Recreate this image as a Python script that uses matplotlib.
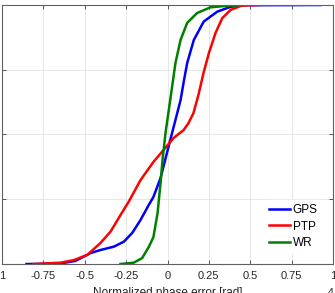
import numpy as np
import matplotlib
matplotlib.use('Agg')
import matplotlib.pyplot as plt

plt.rcParams['font.family'] = ['Liberation Sans', 'DejaVu Sans']

# CDF of normalized phase error
gps_x = [-0.852, -0.767, -0.647, -0.556, -0.465, -0.405, -0.324, -0.264, -0.213, -0.163,
         -0.113, -0.085, -0.042, 0.006, 0.048, 0.079, 0.099, 0.119, 0.159, 0.219,
         0.300, 0.381, 0.459, 0.924]
gps_y = [0.0, 0.0, 0.002, 0.012, 0.042, 0.054, 0.067, 0.086, 0.120, 0.170,
         0.228, 0.259, 0.332, 0.452, 0.556, 0.633, 0.707, 0.776, 0.865, 0.936,
         0.974, 0.993, 0.999, 1.0]

ptp_x = [-0.81, -0.647, -0.566, -0.485, -0.405, -0.344, -0.284, -0.234, -0.163, -0.085,
         -0.024, 0.036, 0.097, 0.127, 0.157, 0.187, 0.219, 0.250, 0.290, 0.331,
         0.381, 0.441, 0.482, 0.556]
ptp_y = [0.0, 0.005, 0.015, 0.035, 0.081, 0.125, 0.189, 0.241, 0.324, 0.394,
         0.440, 0.486, 0.517, 0.544, 0.583, 0.653, 0.741, 0.814, 0.892, 0.949,
         0.981, 0.996, 0.999, 1.0]

wr_x = [-0.284, -0.204, -0.153, -0.113, -0.085, -0.060, -0.042, -0.030, -0.012, 0.008,
        0.028, 0.048, 0.079, 0.119, 0.179, 0.260, 0.361, 0.441]
wr_y = [0.0, 0.005, 0.023, 0.066, 0.104, 0.197, 0.313, 0.402, 0.506, 0.595,
        0.685, 0.776, 0.865, 0.931, 0.969, 0.991, 0.997, 0.999]

xticks = [-1, -0.75, -0.5, -0.25, 0, 0.25, 0.5, 0.75, 1]
xticklabels = ['1', '-0.75', '-0.5', '-0.25', '0', '0.25', '0.5', '0.75', '1']
yticks = [0, 0.25, 0.5, 0.75, 1]

fig = plt.figure(figsize=(3.35, 2.93), dpi=100)
ax = fig.add_axes([0.006, 0.099, 0.988, 0.884])

ax.plot(gps_x, gps_y, c='#0000ff', lw=1.8, label='GPS', solid_joinstyle='round')
ax.plot(ptp_x, ptp_y, c='#ff0000', lw=1.8, label='PTP', solid_joinstyle='round')
ax.plot(wr_x, wr_y, c='#008000', lw=1.8, label='WR', solid_joinstyle='round')

ax.set_xlim(-1, 1)
ax.set_ylim(0, 1)
ax.set_xticks(xticks)
ax.set_xticklabels(xticklabels)
ax.set_yticks(yticks)
ax.tick_params(axis='both', direction='in', length=3, width=0.6, colors='#404040',
               labelsize=8, top=True, right=True, pad=5)
ax.tick_params(axis='x', labelcolor='#262626')
for s in ax.spines.values():
    s.set_color('#606060')
    s.set_linewidth(0.8)
ax.grid(True, color='#e3e3e3', lw=0.6)
ax.set_axisbelow(True)
ax.set_xlabel('Normalized phase error [rad]', fontsize=8.5, color='#262626', labelpad=4.5)

leg = ax.legend(loc='lower right', fontsize=8.5, frameon=True, handlelength=1.8,
                handletextpad=0.2, labelspacing=0.35, borderaxespad=0.9)
leg.get_frame().set_edgecolor('white')
leg.get_frame().set_alpha(1)

fig.text(0.998, 0.0, '-4', fontsize=8, ha='right', va='center', color='#262626')

plt.savefig('out.png', dpi=100)
